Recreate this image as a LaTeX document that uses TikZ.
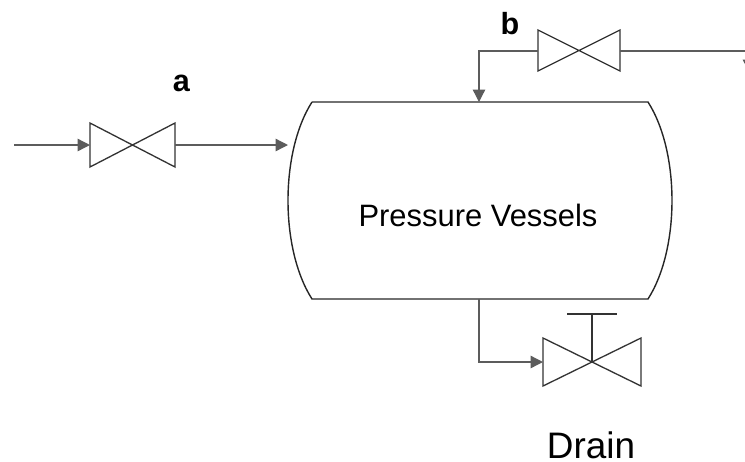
\documentclass[tikz,border=0pt]{standalone}
\usepackage{fontspec}
\setmainfont{Liberation Sans}
\usetikzlibrary{arrows.meta}
\definecolor{pipegray}{gray}{0.36}
\definecolor{outlinegray}{gray}{0.2}
\tikzset{
  pipe/.style={draw=pipegray, line width=.75pt},
  flow/.style={pipe, -{Triangle[length=7pt,width=7pt]}},
  valve/.style={draw=outlinegray, line width=.75pt, line join=miter},
  vessel/.style={draw=black!85, line width=.8pt},
  tag/.style={font=\fontsize{17.4}{20}\bfseries\selectfont, inner sep=0pt},
}
\begin{document}
\begin{tikzpicture}[x=.02cm,y=-.02cm]
\useasboundingbox (0,0) rectangle (745,461);
\clip (0,0) rectangle (745,461);
% vessel
\coordinate (vtl) at (312,102);
\coordinate (vtr) at (648,102);
\coordinate (vbr) at (648,299);
\coordinate (vbl) at (312,299);
\draw[vessel] (vtl) -- (vtr) .. controls (680,152) and (680,249) .. (vbr)
  -- (vbl) .. controls (280,249) and (280,152) .. (vtl);
\node[font=\fontsize{17.6}{20}\selectfont, inner sep=0pt] (vesselname) at (478,215) {Pressure Vessels};
% valve a
\coordinate (ain) at (90,145);
\coordinate (aout) at (175,145);
\coordinate (asrc) at (14,145);
\coordinate (vin) at (288,145);
\coordinate (a1) at (90,123);
\coordinate (a2) at (175,167);
\coordinate (a3) at (175,123);
\coordinate (a4) at (90,167);
\draw[valve] (a1) -- (a2) -- (a3) -- (a4) -- cycle;
\draw[flow] (asrc) -- (ain);
\draw[flow] (aout) -- (vin);
\node[tag] (aname) at (181.5,83.5) {a};
% valve b
\coordinate (bin) at (620,51);
\coordinate (bout) at (538,51);
\coordinate (b1) at (538,30);
\coordinate (b2) at (620,71);
\coordinate (b3) at (620,30);
\coordinate (b4) at (538,71);
\coordinate (vtop) at (479,102);
\coordinate (bend) at (479,51);
\coordinate (rcorner) at (749,51);
\coordinate (rend) at (749,72);
\draw[valve] (b1) -- (b2) -- (b3) -- (b4) -- cycle;
\draw[flow] (bout) -- (bend) -- (vtop);
\draw[flow] (bin) -- (rcorner) -- (rend);
\node[tag] (bname) at (510,24) {b};
% drain valve
\coordinate (vbot) at (479,299);
\coordinate (dbend) at (479,362);
\coordinate (din) at (543,362);
\coordinate (dmid) at (592,362);
\coordinate (dtop) at (592,314);
\coordinate (dbarl) at (567,314);
\coordinate (dbarr) at (617,314);
\coordinate (d1) at (543,338);
\coordinate (d2) at (641,386);
\coordinate (d3) at (641,338);
\coordinate (d4) at (543,386);
\draw[valve] (d1) -- (d2) -- (d3) -- (d4) -- cycle;
\draw[flow] (vbot) -- (dbend) -- (din);
\draw[valve] (dmid) -- (dtop);
\draw[valve] (dbarl) -- (dbarr);
\node[font=\fontsize{21}{25}\selectfont, inner sep=0pt] (drainname) at (591,445) {Drain};
\end{tikzpicture}
\end{document}
